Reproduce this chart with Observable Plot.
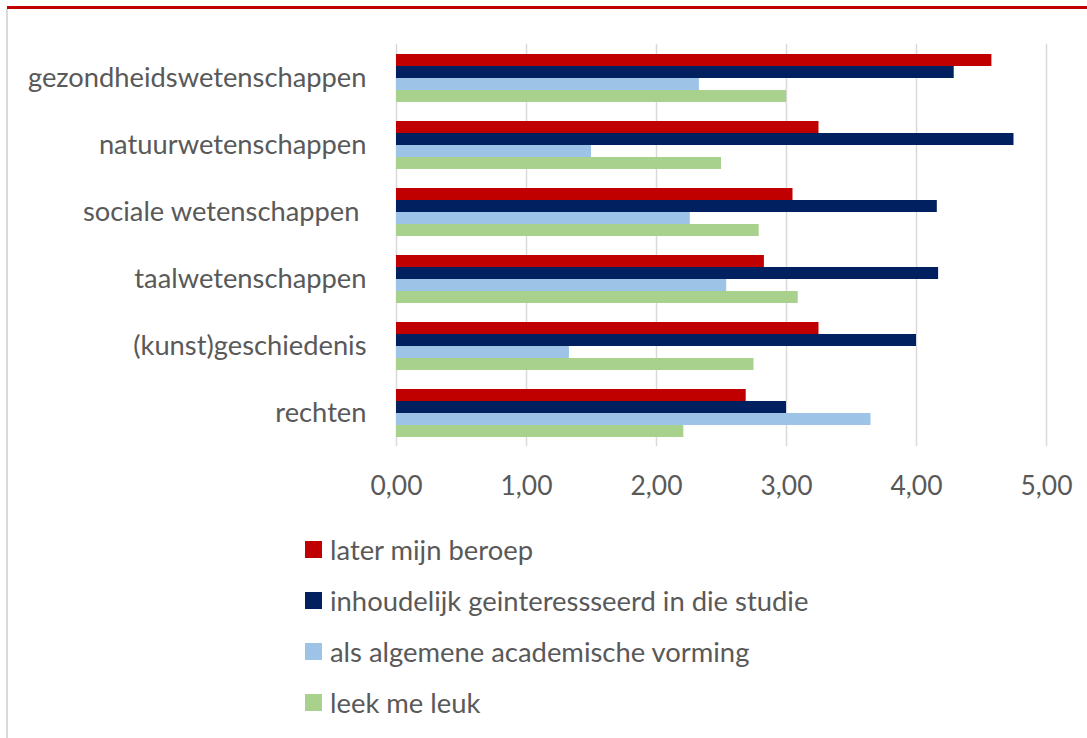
<!DOCTYPE html>
<html>
<head>
<meta charset="utf-8">
<script src="https://cdn.jsdelivr.net/npm/d3@7"></script>
<script src="https://cdn.jsdelivr.net/npm/@observablehq/plot@0.6"></script>
<style>
  html, body { margin: 0; padding: 0; background: #fff; }
  #wrap { position: relative; width: 1087px; height: 738px; background: #fff; overflow: hidden; }
  #topline { position: absolute; left: 7px; right: 0; top: 6px; height: 3px; background: #c00000; }
  #leftline { position: absolute; left: 6px; top: 9px; bottom: 0; width: 1.5px; background: #d9d9d9; }
  #chart { position: absolute; left: 0; top: 0; }
  #chart svg text { white-space: pre; }
  #legend { position: absolute; left: 0; top: 0; width: 1087px; }
  .row { position: absolute; left: 305px; height: 17px; display: flex; align-items: center; }
  .sw { width: 17px; height: 17px; flex: none; }
  .lab { margin-left: 8px; color: #595959; white-space: pre; line-height: 1; }
</style>
</head>
<body>
<div id="wrap">
  <div id="topline"></div>
  <div id="leftline"></div>
  <div id="chart"></div>
  <div id="legend"></div>
</div>
<script>
// ---- data ----
const categories = [
  "gezondheidswetenschappen",
  "natuurwetenschappen",
  "sociale wetenschappen ",
  "taalwetenschappen",
  "(kunst)geschiedenis",
  "rechten"
];
const series = [
  "later mijn beroep",
  "inhoudelijk geinteressseerd in die studie",
  "als algemene academische vorming",
  "leek me leuk"
];
const laterMijnBeroep   = [4.58, 3.25, 3.05, 2.83, 3.25, 2.69];
const inhoudelijk       = [4.29, 4.75, 4.16, 4.17, 4.00, 3.00];
const algemeneVorming   = [2.33, 1.50, 2.26, 2.54, 1.33, 3.65];
const leekMeLeuk        = [3.00, 2.50, 2.79, 3.09, 2.75, 2.21];
const seriesColors = ["#c00000", "#002060", "#9dc3e6", "#a9d18e"];
const xTicks = [0, 1, 2, 3, 4, 5];

const seriesValues = [laterMijnBeroep, inhoudelijk, algemeneVorming, leekMeLeuk];
const rows = categories.flatMap((c, i) =>
  series.map((s, j) => ({category: c, series: s, value: seriesValues[j][i]}))
);

// ---- fonts ----
const FONT = "Lato, 'Open Sans', 'DejaVu Sans', sans-serif";
const ctx = document.createElement("canvas").getContext("2d");
function fit(text, target) {
  ctx.font = `100px ${FONT}`;
  return Math.round(10 * 100 * target / ctx.measureText(text).width) / 10;
}
const catFont = fit("gezondheidswetenschappen", 339);
const tickFont = fit("0,00", 52);
const legFont = fit("inhoudelijk geinteressseerd in die studie", 478);

const fmt = d => d.toFixed(2).replace(".", ",");

// ---- layout ----
const W = 1087, H = 520;
const mTop = 43, mBottom = 73;
const frameH = H - mTop - mBottom;
const padIn = 0.27, padOut = 0.135;
const step = frameH / (categories.length - padIn + 2 * padOut);
const halfGap = step * padIn / 2;

const chart = Plot.plot({
  width: W,
  height: H,
  marginLeft: 396,
  marginRight: 41,
  marginTop: mTop,
  marginBottom: mBottom,
  style: {fontFamily: FONT, color: "#595959", background: "none", overflow: "visible"},
  x: {domain: [0, 5], ticks: xTicks, tickFormat: fmt},
  y: {domain: series, padding: 0, axis: null},
  fy: {domain: categories, paddingInner: padIn, paddingOuter: padOut, label: null},
  color: {domain: series, range: seriesColors},
  marks: [
    Plot.ruleX(xTicks, {stroke: "#d9d9d9", strokeWidth: 1.5, insetTop: -halfGap, insetBottom: -halfGap}),
    Plot.barX(rows, {fy: "category", y: "series", x: "value", fill: "series"}),
    Plot.axisX({ticks: xTicks, tickFormat: fmt, tickSize: 0, tickPadding: 39, fontSize: tickFont, label: null}),
    Plot.axisFy({anchor: "left", tickSize: 0, tickPadding: 30, fontSize: catFont, label: null})
  ]
});
document.getElementById("chart").appendChild(chart);

// ---- legend ----
const legend = document.getElementById("legend");
series.forEach((s, i) => {
  const row = document.createElement("div");
  row.className = "row";
  row.style.top = (541 + i * 51) + "px";
  const sw = document.createElement("div");
  sw.className = "sw";
  sw.style.background = seriesColors[i];
  const lab = document.createElement("div");
  lab.className = "lab";
  lab.style.fontFamily = FONT;
  lab.style.fontSize = legFont + "px";
  lab.textContent = s;
  row.appendChild(sw);
  row.appendChild(lab);
  legend.appendChild(row);
});
</script>
</body>
</html>
